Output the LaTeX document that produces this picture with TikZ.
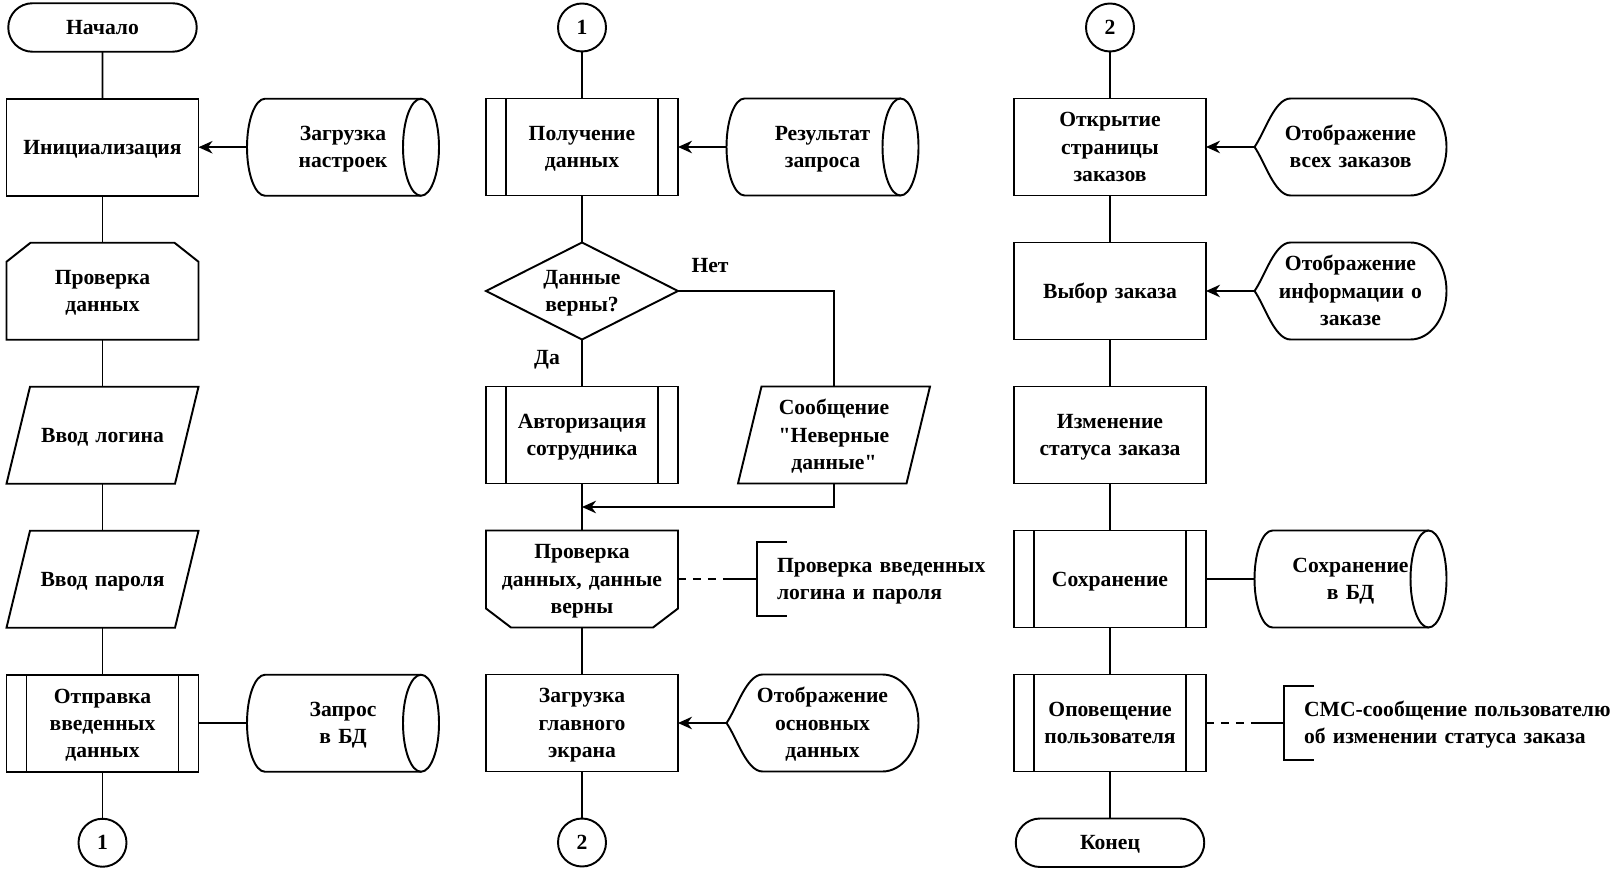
\documentclass[tikz,border=0pt]{standalone}
\usepackage{fontspec}
\setmainfont{Liberation Serif}
\usetikzlibrary{
  arrows.meta,
  positioning,
  shapes.geometric,
  shapes.misc,
  calc,
}
\tikzset{
  baseNode/.style={
    font=\bfseries\fontsize{12.3}{15.4}\selectfont, align=center, line width=1.1pt, outer sep=0pt,
    execute at begin node={\rule[-3.5pt]{0pt}{15pt}},
    execute at end node={\rule[-3.5pt]{0pt}{15pt}},
  },
  procBox/.style={
    baseNode, rectangle, draw, text width=3.5cm, minimum width=3.84cm, minimum height=1.94cm, inner sep=2pt,
  },
  subProc/.style={
    procBox, path picture={
      \draw[line width=1.1pt]
        ([xshift=0.4cm]path picture bounding box.north west) -- ([xshift=0.4cm]path picture bounding box.south west)
        ([xshift=-0.4cm]path picture bounding box.north east) -- ([xshift=-0.4cm]path picture bounding box.south east);
    },
  },
  termBox/.style={
    baseNode, rounded rectangle, draw, minimum width=3.84cm, minimum height=0.97cm, inner sep=1pt,
  },
  connCircle/.style={
    baseNode, circle, draw, minimum size=0.96cm, inner sep=0pt,
  },
  decBox/.style={
    baseNode, diamond, draw, aspect=2, text width=1.7cm, minimum width=3.84cm, minimum height=1.94cm, inner sep=0pt,
  },
  shapeFree/.style={
    baseNode, text width=3.5cm, minimum width=3.84cm, minimum height=1.94cm, inner sep=1pt,
  },
  noteText/.style={
    baseNode, align=left, text width=6.3cm, minimum height=1.48cm, inner xsep=0.4cm, inner ysep=0pt,
  },
  lbl/.style={baseNode},
  outline/.style={line width=1.1pt},
  plainLine/.style={line width=1.1pt},
  dashLine/.style={line width=1.1pt, dash pattern=on 4.5pt off 4pt},
  arrowLine/.style={
    -{Stealth[length=2.8mm,width=2.5mm,inset=0.9mm]}, line width=1.1pt,
  },
}

\begin{document}
\begin{tikzpicture}[node distance=0.94cm and 0.97cm]
\useasboundingbox (0,0) rectangle (32.28,-17.42);

\node[termBox] (start) at (2.05,-0.55) {Начало};
\node[procBox, below=of start] (init) {Инициализация};
\node[shapeFree, right=of init] (loadCfg) {Загрузка\\настроек};
\node[shapeFree, below=of init] (chkIn) {Проверка\\данных};
\node[shapeFree, below=of chkIn] (login) {Ввод логина};
\node[shapeFree, below=of login] (passw) {Ввод пароля};
\node[subProc, below=of passw] (send) {Отправка\\введенных\\данных};
\node[shapeFree, right=of send] (query) {Запрос\\в БД};
\node[connCircle, below=of send] (outA) {1};

\node[connCircle] (inA) at (11.64,-0.55) {1};
\node[subProc, below=of inA] (fetch) {Получение\\данных};
\node[shapeFree, right=of fetch] (result) {Результат\\запроса};
\node[decBox, below=of fetch] (valid) {Данные\\верны?};
\node[subProc, below=of valid] (auth) {Авторизация\\сотрудника};
\node[shapeFree, right=1.2cm of auth] (errMsg) {Сообщение\\\textquotedbl Неверные\\данные\textquotedbl};
\node[shapeFree, below=of auth] (chkAuth) {Проверка\\данных, данные\\верны};
\node[noteText, right=1.58cm of chkAuth] (noteAuth) {Проверка введенных\\логина и пароля};
\node[procBox, below=of chkAuth] (mainScr) {Загрузка\\главного\\экрана};
\node[shapeFree, right=of mainScr] (showMain) {Отображение\\основных\\данных};
\node[connCircle, below=of mainScr] (outB) {2};
\node[lbl] (noLbl) at ([xshift=0.64cm,yshift=0.51cm]valid.east) {Нет};
\node[lbl] (yesLbl) at ([xshift=-0.7cm,yshift=-0.35cm]valid.south) {Да};

\node[connCircle] (inB) at (22.2,-0.55) {2};
\node[procBox, below=of inB] (orders) {Открытие\\страницы\\заказов};
\node[shapeFree, right=of orders] (showAll) {Отображение\\всех заказов};
\node[procBox, below=of orders] (pick) {Выбор заказа};
\node[shapeFree, right=of pick] (showInfo) {Отображение\\информации о\\заказе};
\node[procBox, below=of pick] (status) {Изменение\\статуса заказа};
\node[subProc, below=of status] (save) {Сохранение};
\node[shapeFree, right=of save] (saveDb) {Сохранение\\в БД};
\node[subProc, below=of save] (notify) {Оповещение\\пользователя};
\node[noteText, right=1.56cm of notify] (noteSms) {СМС-сообщение пользователю\\об изменении статуса заказа};
\node[termBox, below=of notify] (finish) {Конец};

\draw[outline] (chkIn.south west) -- ([yshift=-0.38cm]chkIn.north west) -- ([xshift=0.48cm]chkIn.north west)
  -- ([xshift=-0.48cm]chkIn.north east) -- ([yshift=-0.38cm]chkIn.north east) -- (chkIn.south east) -- cycle;
\draw[outline] (chkAuth.north west) -- ([yshift=0.38cm]chkAuth.south west) -- ([xshift=0.5cm]chkAuth.south west)
  -- ([xshift=-0.5cm]chkAuth.south east) -- ([yshift=0.38cm]chkAuth.south east) -- (chkAuth.north east) -- cycle;
\foreach \n in {login,passw,errMsg}
  \draw[outline] (\n.south west) -- ([xshift=0.47cm]\n.north west) -- (\n.north east)
    -- ([xshift=-0.47cm]\n.south east) -- cycle;
\foreach \n in {loadCfg,query,result,saveDb} {
  \draw[outline] ([xshift=0.36cm]\n.north west) -- ([xshift=-0.36cm]\n.north east)
    ([xshift=-0.36cm]\n.south east) -- ([xshift=0.36cm]\n.south west)
    arc[start angle=270, end angle=90, x radius=0.36cm, y radius=0.97cm];
  \draw[outline] ([xshift=-0.36cm]\n.east) ellipse[x radius=0.36cm, y radius=0.97cm];
}
\foreach \n in {showMain,showAll,showInfo}
  \draw[outline] (\n.west) .. controls ([xshift=0.2cm,yshift=0.28cm]\n.west) and ([xshift=0.4cm]\n.north west)
    .. ([xshift=0.72cm]\n.north west) -- ([xshift=-0.72cm]\n.north east)
    arc[start angle=90, end angle=-90, x radius=0.72cm, y radius=0.97cm]
    -- ([xshift=0.72cm]\n.south west) .. controls ([xshift=0.4cm]\n.south west) and ([xshift=0.2cm,yshift=-0.28cm]\n.west)
    .. (\n.west);
\foreach \n in {noteAuth,noteSms}
  \draw[outline] ([xshift=0.6cm]\n.north west) -- (\n.north west) -- (\n.south west) -- ([xshift=0.6cm]\n.south west)
    (\n.west) -- ++(-0.6cm,0) coordinate (\n-stub);

\foreach \a/\b in {start/init, init/chkIn, chkIn/login, login/passw, passw/send, send/outA, send/query,
  inA/fetch, fetch/valid, valid/auth, auth/chkAuth, chkAuth/mainScr, mainScr/outB,
  inB/orders, orders/pick, pick/status, status/save, save/notify, notify/finish, save/saveDb}
  \draw[plainLine] (\a) -- (\b);
\foreach \a/\b in {loadCfg/init, result/fetch, showMain/mainScr, showAll/orders, showInfo/pick}
  \draw[arrowLine] (\a.west) -- (\b.east);

\coordinate (merge) at ($(auth.south)!0.5!(chkAuth.north)$);
\draw[plainLine] (valid.east) -| (errMsg.north);
\draw[arrowLine] (errMsg.south) |- (merge);
\draw[dashLine] (chkAuth.east) -- (noteAuth-stub);
\draw[dashLine] (notify.east) -- (noteSms-stub);
\end{tikzpicture}
\end{document}
